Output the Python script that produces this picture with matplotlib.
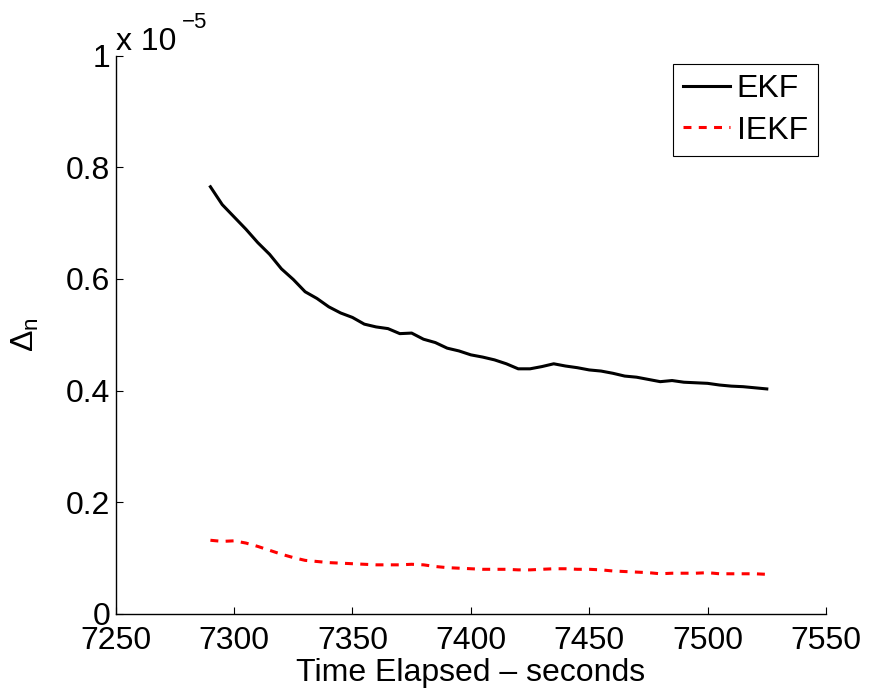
import numpy as np
import matplotlib
matplotlib.use("Agg")
import matplotlib.pyplot as plt

plt.rcParams['font.family'] = ['Liberation Sans', 'DejaVu Sans']
plt.rcParams['mathtext.fontset'] = 'custom'
plt.rcParams['mathtext.rm'] = 'Liberation Sans'
plt.rcParams['mathtext.it'] = 'Liberation Sans'
plt.rcParams['mathtext.default'] = 'regular'

# ---- data (values in units of 1e-5) ----
time_s = list(range(7290, 7530, 5))
ekf = [0.765, 0.733, 0.711, 0.689, 0.665, 0.644, 0.618, 0.599, 0.577, 0.565,
       0.550, 0.539, 0.531, 0.519, 0.514, 0.511, 0.502, 0.503, 0.492, 0.486,
       0.476, 0.471, 0.464, 0.460, 0.455, 0.448, 0.439, 0.439, 0.443, 0.448,
       0.444, 0.441, 0.437, 0.435, 0.431, 0.426, 0.424, 0.420, 0.416, 0.418,
       0.415, 0.414, 0.413, 0.410, 0.408, 0.407, 0.405, 0.403]
iekf = [0.132, 0.130, 0.131, 0.127, 0.121, 0.114, 0.107, 0.101, 0.096, 0.094,
        0.092, 0.091, 0.090, 0.089, 0.088, 0.088, 0.088, 0.089, 0.088, 0.085,
        0.083, 0.082, 0.081, 0.080, 0.080, 0.080, 0.079, 0.079, 0.080, 0.081,
        0.081, 0.080, 0.080, 0.079, 0.077, 0.076, 0.075, 0.074, 0.072, 0.073,
        0.073, 0.073, 0.074, 0.072, 0.072, 0.072, 0.072, 0.071]
SCALE = 1e-5
series_labels = ['EKF', 'IEKF']
x_ticks = [7250, 7300, 7350, 7400, 7450, 7500, 7550]
y_ticks = [0, 0.2, 0.4, 0.6, 0.8, 1.0]
x_label = 'Time Elapsed – seconds'
y_label = r'$\Delta_n$'

FS = 23

fig = plt.figure(figsize=(8.7, 6.94), dpi=100)
ax = fig.add_axes([0.133, 0.1153, 0.8164, 0.8047])

ax.plot(time_s, np.array(ekf) * SCALE, color='black', lw=2.2, label=series_labels[0])
ax.plot(time_s, np.array(iekf) * SCALE, color='red', lw=2.2, dashes=(2.6, 2.4),
        label=series_labels[1])

ax.set_xlim(7250, 7550)
ax.set_ylim(0, 1e-5)
ax.set_xticks(x_ticks)
ax.set_yticks([v * SCALE for v in y_ticks])
ax.set_xticklabels([str(v) for v in x_ticks])
ax.set_yticklabels(['%g' % v for v in y_ticks])

for s in ['top', 'right']:
    ax.spines[s].set_visible(False)
for s in ['left', 'bottom']:
    ax.spines[s].set_linewidth(1.0)

ax.tick_params(direction='in', length=5, width=0.8, labelsize=FS)
ax.tick_params(axis='x', pad=8.5)
ax.tick_params(axis='y', pad=4)

ax.set_xlabel(x_label, fontsize=FS, labelpad=1.5)
ax.set_ylabel(y_label, fontsize=FS)
ax.yaxis.set_label_coords(-0.105, 0.5)

# MATLAB-style exponent label
ax.text(0.0, 1.0105, 'x 10', transform=ax.transAxes, fontsize=FS,
        ha='left', va='baseline')
ax.text(0.093, 1.05, '\u22125', transform=ax.transAxes, fontsize=16,
        ha='left', va='baseline')

leg = ax.legend(loc='upper right', fontsize=FS, frameon=True, fancybox=False,
                framealpha=1, edgecolor='black', handlelength=1.47,
                handletextpad=0.2, borderaxespad=0.25, labelspacing=0.37,
                borderpad=0.32)
leg.get_frame().set_linewidth(0.8)

fig.savefig('out.png', dpi=100)
